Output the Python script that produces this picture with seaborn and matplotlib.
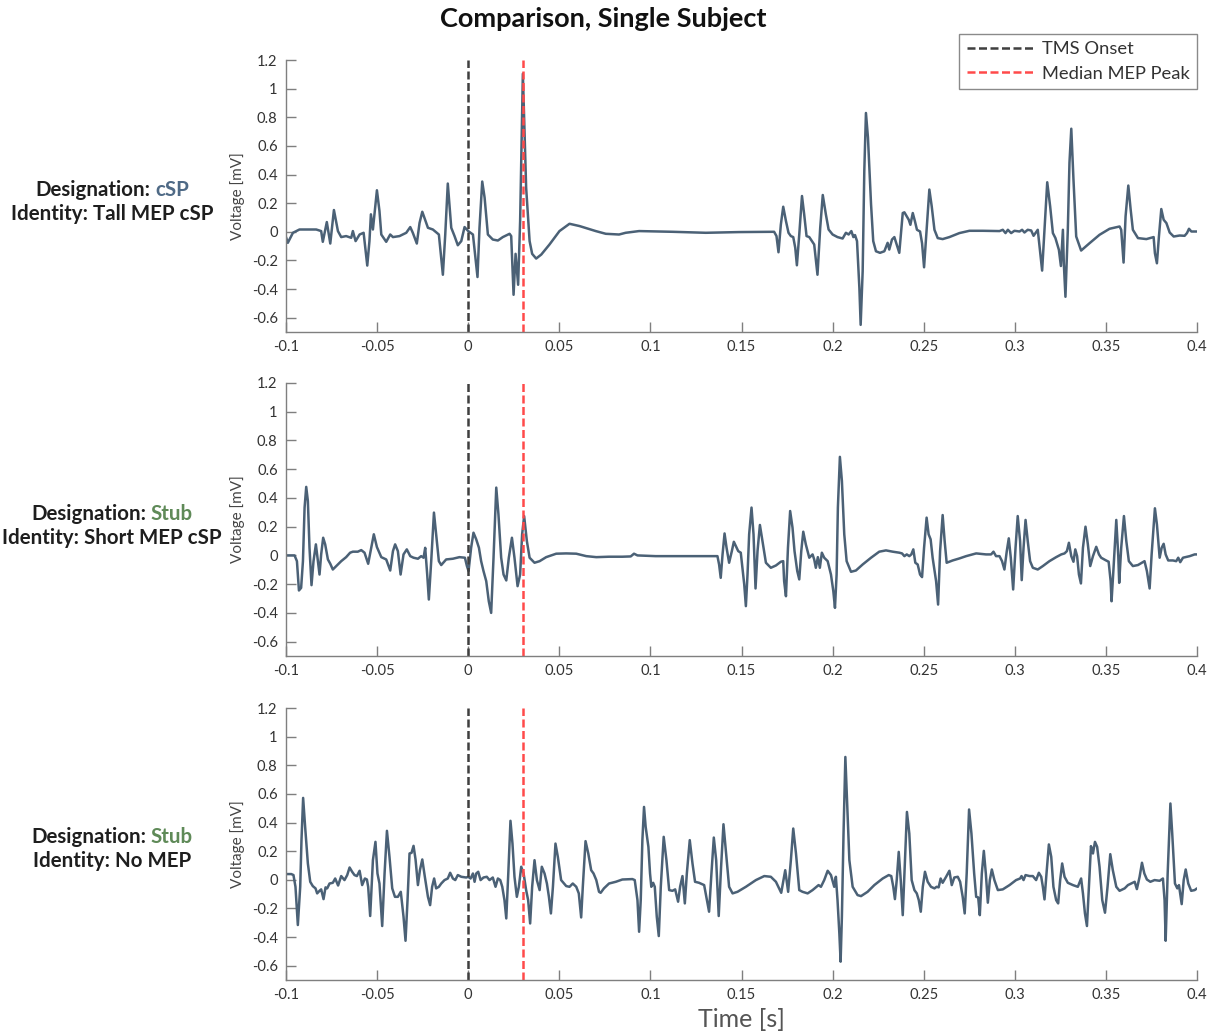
import numpy as np
import pandas as pd
import matplotlib
matplotlib.use("Agg")
import matplotlib.pyplot as plt
from matplotlib.ticker import FuncFormatter
import seaborn as sns

# ---------------- data ----------------
# Trial 1: Designation cSP / Identity Tall MEP cSP
t1 = [-0.1, -0.099, -0.0962, -0.0926, -0.0834, -0.0807, -0.0798, -0.0776, -0.0757, -0.0737,
      -0.0715, -0.0697, -0.0670, -0.0642, -0.0633, -0.0618, -0.0596, -0.0574, -0.0554, -0.0542,
      -0.0534, -0.0523, -0.0501, -0.0487, -0.0477, -0.0450, -0.0428, -0.0413, -0.0377, -0.0340,
      -0.0318, -0.0304, -0.0282, -0.0267, -0.0252, -0.0234, -0.0221, -0.0194, -0.0161, -0.0139,
      -0.0126, -0.0112, -0.0093, -0.0075, -0.0057, -0.0038, -0.0020, 0.0, 0.0026, 0.0051,
      0.0062, 0.0077, 0.0090, 0.0108, 0.0135, 0.0163, 0.0190, 0.0227, 0.0236, 0.0249,
      0.0260, 0.0274, 0.0285, 0.0300, 0.0318, 0.0337, 0.0351, 0.0373, 0.0401, 0.0446,
      0.0501, 0.0556, 0.0611,
      0.0700, 0.0755, 0.0828, 0.0864, 0.0938, 0.1121, 0.1304, 0.1487, 0.1679, 0.1692,
      0.1703, 0.1716, 0.1729, 0.1744, 0.1758, 0.1771, 0.1784, 0.1795, 0.1804, 0.1817,
      0.1832, 0.1844, 0.1857, 0.1872, 0.1899, 0.1917, 0.1932, 0.1946, 0.1963, 0.1978,
      0.2000, 0.2027, 0.2055, 0.2073, 0.2088, 0.2103, 0.2114, 0.2123, 0.2134, 0.2147,
      0.2154, 0.2165, 0.2174, 0.2183, 0.2194, 0.2211, 0.2223, 0.2238, 0.2260, 0.2284,
      0.2302, 0.2311, 0.2326, 0.2339, 0.2352, 0.2366,
      0.2385, 0.2394, 0.2407, 0.2418, 0.2427, 0.2440, 0.2452, 0.2463, 0.2480, 0.2491,
      0.2502, 0.2516, 0.2531, 0.2544, 0.2559, 0.2577, 0.2604, 0.2641, 0.2696, 0.2751,
      0.2824, 0.2916, 0.2934, 0.2949, 0.2962, 0.2980, 0.2998, 0.3026, 0.3040, 0.3053,
      0.3071, 0.3090, 0.3103, 0.3126, 0.3150, 0.3163, 0.3178, 0.3194, 0.3209, 0.3223,
      0.3242, 0.3253, 0.3264, 0.3269, 0.3278, 0.3291, 0.3300, 0.3310, 0.3322, 0.3337,
      0.3364, 0.3410, 0.3465, 0.3520, 0.3575, 0.3584, 0.3597, 0.3608, 0.3623, 0.3636,
      0.3648, 0.3676, 0.3722, 0.3762, 0.3769, 0.3780, 0.3791, 0.3804, 0.3817, 0.3832,
      0.3850, 0.3872, 0.3905, 0.3932, 0.3945, 0.3956, 0.3969, 0.3987, 0.4]
v1 = [-0.037, -0.077, -0.007, 0.016, 0.016, 0.005, -0.070, 0.068, -0.082, 0.152,
      0.005, -0.037, -0.030, -0.042, 0.005, -0.065, -0.019, -0.007, -0.236, -0.065,
      0.122, 0.016, 0.290, 0.145, -0.019, -0.070, -0.019, -0.037, -0.030, -0.007,
      0.033, -0.007, -0.082, 0.062, 0.140, 0.075, 0.028, 0.016, -0.019, -0.300,
      -0.019, 0.337, 0.028, -0.030, -0.094, -0.065, 0.033, 0.005, -0.019, -0.316,
      0.028, 0.351, 0.239, -0.019, -0.054, -0.061, -0.037, -0.014, -0.030, -0.440,
      -0.154, -0.370, 0.075, 1.104, 0.309, -0.065, -0.154, -0.187, -0.159, -0.089,
      0.005, 0.056, 0.040,
      0.005, -0.014, -0.019, -0.007, 0.005, 0.0, -0.007, -0.002, 0.0, -0.030,
      -0.143, 0.051, 0.175, 0.075, -0.007, -0.030, -0.037, -0.112, -0.234, -0.019,
      0.250, 0.122, -0.030, -0.037, -0.089, -0.300, 0.028, 0.257, 0.122, 0.016,
      -0.019, -0.037, -0.047, -0.007, -0.019, 0.005, -0.037, -0.023, -0.065, -0.393,
      -0.650, -0.276, 0.426, 0.830, 0.660, 0.192, -0.065, -0.136, -0.147, -0.136,
      -0.077, -0.124, -0.054, -0.037, -0.089, -0.147,
      0.131, 0.136, 0.108, 0.084, 0.049, 0.131, 0.073, 0.014, 0.002, -0.080,
      -0.248, 0.014, 0.295, 0.178, 0.014, -0.044, -0.051, -0.037, -0.009, 0.007,
      0.007, 0.005, 0.014, -0.009, 0.014, -0.009, 0.007, 0.002, 0.014, -0.005,
      0.014, 0.009, -0.028, 0.014, -0.271, 0.014, 0.346, 0.178, -0.009, -0.044,
      -0.126, -0.239, 0.014, -0.220, -0.454, 0.014, 0.482, 0.720, 0.365, -0.033,
      -0.131, -0.080, -0.021, 0.021, 0.037, 0.014, -0.215, 0.108, 0.323, 0.154,
      0.014, -0.044, -0.051, -0.037, -0.150, -0.220, -0.033, 0.159, 0.084, 0.061,
      -0.005, -0.033, -0.026, -0.028, -0.009, 0.021, 0.002, 0.002, 0.002]

# Trial 2: Designation Stub / Identity Short MEP cSP
t2 = [-0.1, -0.0953, -0.0940, -0.0929, -0.0917, -0.0907, -0.0898, -0.0889, -0.0880, -0.0871,
      -0.0860, -0.0849, -0.0836, -0.0825, -0.0816, -0.0807, -0.0796, -0.0785, -0.0770, -0.0757,
      -0.0743, -0.0724, -0.0697, -0.0670, -0.0648, -0.0633, -0.0606, -0.0587, -0.0569, -0.0549,
      -0.0532, -0.0518, -0.0501, -0.0477, -0.0450, -0.0428, -0.0413, -0.0401, -0.0386, -0.0371,
      -0.0355, -0.0337, -0.0318, -0.0300, -0.0276, -0.0258, -0.0245, -0.0236, -0.0225, -0.0216,
      -0.0203, -0.0188, -0.0176, -0.0161, -0.0148, -0.0121, -0.0084, -0.0048, -0.0018, -0.0007,
      0.0002, 0.0016, 0.0029, 0.0044, 0.0059, 0.0071, 0.0084, 0.0099, 0.0113, 0.0126,
      0.0139, 0.0154, 0.0166, 0.0181, 0.0194, 0.0209, 0.0223, 0.0240, 0.0254, 0.0271,
      0.0285, 0.0296, 0.0307, 0.0322, 0.0337, 0.0364, 0.0392, 0.0428, 0.0483, 0.0538,
      0.0593, 0.0648, 0.0703,
      0.0773, 0.0846, 0.0892, 0.0910, 0.0929, 0.1029, 0.1212, 0.1368, 0.1377, 0.1386,
      0.1396, 0.1407, 0.1418, 0.1432, 0.1447, 0.1458, 0.1469, 0.1482, 0.1496, 0.1505,
      0.1515, 0.1524, 0.1533, 0.1542, 0.1555, 0.1566, 0.1577, 0.1588, 0.1601, 0.1615,
      0.1634, 0.1661, 0.1689, 0.1716, 0.1729, 0.1734, 0.1744, 0.1755, 0.1767, 0.1780,
      0.1791, 0.1806, 0.1817, 0.1828, 0.1839, 0.1853, 0.1872, 0.1890, 0.1899, 0.1908,
      0.1919, 0.1930, 0.1941, 0.1954, 0.1973, 0.1991, 0.2004, 0.2013, 0.2022, 0.2029,
      0.2040, 0.2051, 0.2064, 0.2077, 0.2101, 0.2128, 0.2165, 0.2211, 0.2256, 0.2293,
      0.2330,
      0.2366, 0.2381, 0.2394, 0.2407, 0.2421, 0.2432, 0.2443, 0.2454, 0.2467, 0.2480,
      0.2491, 0.2502, 0.2516, 0.2527, 0.2538, 0.2549, 0.2560, 0.2568, 0.2579, 0.2590,
      0.2604, 0.2615, 0.2626, 0.2659, 0.2696, 0.2733, 0.2788, 0.2842, 0.2870, 0.2883,
      0.2897, 0.2916, 0.2930, 0.2943, 0.2956, 0.2967, 0.2978, 0.2991, 0.3004, 0.3016,
      0.3029, 0.3038, 0.3048, 0.3059, 0.3071, 0.3084, 0.3099, 0.3126, 0.3154, 0.3190,
      0.3227, 0.3255, 0.3273, 0.3286, 0.3297, 0.3310, 0.3322, 0.3332, 0.3342, 0.3352,
      0.3363, 0.3374, 0.3388, 0.3401, 0.3414, 0.3429, 0.3447, 0.3462, 0.3474, 0.3498,
      0.3515, 0.3526, 0.3531, 0.3542, 0.3557, 0.3568, 0.3573, 0.3584, 0.3599, 0.3612,
      0.3626, 0.3648, 0.3676, 0.3712, 0.3725, 0.3740, 0.3751, 0.3769, 0.3780, 0.3795,
      0.3806, 0.3817, 0.3828, 0.3842, 0.3868, 0.3886, 0.3897, 0.3908, 0.3923, 0.3960,
      0.3987, 0.4]
v2 = [0.0, 0.0, -0.040, -0.244, -0.226, -0.040, 0.333, 0.477, 0.379, 0.053,
      -0.207, -0.040, 0.077, -0.040, -0.133, 0.007, 0.123, 0.077, -0.028, -0.058,
      -0.098, -0.074, -0.040, -0.012, 0.019, 0.026, 0.026, 0.037, 0.019, -0.058,
      0.053, 0.147, 0.058, -0.012, -0.028, -0.105, 0.030, 0.077, 0.030, -0.133,
      0.007, 0.042, -0.005, -0.016, -0.023, -0.005, -0.016, 0.053, -0.133, -0.307,
      -0.040, 0.298, 0.147, -0.040, -0.067, -0.028, -0.023, -0.012, -0.016, -0.074,
      -0.109, 0.053, 0.158, 0.112, 0.053, -0.040, -0.109, -0.179, -0.319, -0.400,
      -0.016, 0.472, 0.286, -0.016, -0.133, -0.174, -0.016, 0.123, -0.016, -0.214,
      -0.133, 0.147, 0.274, 0.100, -0.016, -0.051, -0.040, -0.012, 0.012, 0.014,
      0.012, -0.005, -0.012,
      -0.009, -0.009, -0.007, 0.012, 0.0, -0.005, -0.005, -0.005, -0.063, -0.156,
      0.007, 0.153, 0.053, -0.051, 0.030, 0.095, 0.065, 0.030, 0.019, -0.086,
      -0.202, -0.353, -0.133, 0.147, 0.333, 0.147, -0.230, 0.030, 0.212, 0.100,
      -0.051, -0.086, -0.070, -0.044, -0.040, -0.179, -0.284, 0.053, 0.309, 0.193,
      0.030, -0.109, -0.167, 0.030, 0.165, 0.077, -0.016, 0.007, -0.028, -0.086,
      -0.012, -0.086, 0.019, -0.016, -0.040, -0.133, -0.249, -0.365, -0.133, 0.333,
      0.686, 0.519, 0.147, -0.040, -0.114, -0.105, -0.063, -0.016, 0.026, 0.035,
      0.026,
      0.019, 0.014, -0.005, 0.007, -0.005, 0.007, 0.042, -0.051, -0.063, -0.133,
      -0.151, 0.053, 0.263, 0.147, 0.112, -0.016, -0.109, -0.179, -0.342, 0.030,
      0.281, 0.100, -0.051, -0.035, -0.021, -0.005, 0.014, 0.007, 0.007, 0.026,
      -0.005, -0.005, -0.040, -0.098, 0.030, 0.119, -0.016, -0.237, 0.053, 0.274,
      0.100, -0.172, 0.053, 0.247, 0.100, -0.040, -0.086, -0.098, -0.074, -0.040,
      -0.012, 0.007, 0.014, 0.030, 0.088, -0.005, -0.044, 0.042, -0.005, -0.133,
      -0.195, 0.053, 0.200, 0.077, -0.074, -0.005, 0.060, 0.007, -0.016, -0.033,
      -0.044, -0.179, -0.319, -0.086, 0.247, -0.005, -0.191, 0.053, 0.274, 0.100,
      -0.040, -0.074, -0.067, -0.040, -0.109, -0.230, 0.007, 0.328, 0.216, -0.016,
      0.053, 0.081, 0.007, -0.035, -0.035, -0.040, -0.016, -0.047, -0.016, -0.005,
      0.007, 0.007]

# Trial 3: Designation Stub / Identity No MEP
t3 = [-0.1, -0.0971, -0.0959, -0.0948, -0.0935, -0.0922, -0.0915, -0.0906, -0.0895, -0.0880,
      -0.0867, -0.0853, -0.0838, -0.0829, -0.0816, -0.0807, -0.0794, -0.0783, -0.0774, -0.0761,
      -0.0743, -0.0730, -0.0714, -0.0697, -0.0679, -0.0664, -0.0651, -0.0637, -0.0624, -0.0611,
      -0.0596, -0.0582, -0.0567, -0.0556, -0.0549, -0.0538, -0.0523, -0.0509, -0.0498, -0.0487,
      -0.0472, -0.0459, -0.0446, -0.0432, -0.0417, -0.0402, -0.0386, -0.0370, -0.0355, -0.0344,
      -0.0333, -0.0322, -0.0311, -0.0300, -0.0289, -0.0276, -0.0265, -0.0252, -0.0238, -0.0221,
      -0.0209, -0.0198, -0.0187, -0.0176, -0.0161, -0.0148, -0.0130, -0.0112, -0.0099, -0.0084,
      -0.0071, -0.0057, -0.0038, -0.0011, 0.0, 0.0013, 0.0026, 0.0035, 0.0044, 0.0055,
      0.0068, 0.0084, 0.0102, 0.0117, 0.0135, 0.0150, 0.0163, 0.0176, 0.0187, 0.0199,
      0.0209, 0.0220, 0.0232, 0.0243, 0.0254, 0.0267, 0.0278, 0.0291, 0.0304, 0.0318,
      0.0329, 0.0340, 0.0351, 0.0364, 0.0377, 0.0392, 0.0404, 0.0419, 0.0432, 0.0443,
      0.0454, 0.0465, 0.0479, 0.0492, 0.0510, 0.0538, 0.0556, 0.0574, 0.0593, 0.0607,
      0.0620, 0.0629, 0.0644, 0.0659, 0.0675, 0.0688,
      0.0703, 0.0718, 0.0727, 0.0745, 0.0773, 0.0810, 0.0846, 0.0901, 0.0914, 0.0929,
      0.0938, 0.0947, 0.0956, 0.0965, 0.0974, 0.0989, 0.0998, 0.1005, 0.1015, 0.1024,
      0.1035, 0.1046, 0.1057, 0.1073, 0.1088, 0.1103, 0.1121, 0.1136, 0.1152, 0.1163,
      0.1176, 0.1189, 0.1200, 0.1216, 0.1231, 0.1245, 0.1267, 0.1295, 0.1322, 0.1335,
      0.1348, 0.1361, 0.1375, 0.1388, 0.1401, 0.1414, 0.1432, 0.1451, 0.1478, 0.1524,
      0.1579, 0.1625, 0.1661, 0.1689, 0.1718, 0.1740, 0.1756, 0.1771, 0.1784, 0.1799,
      0.1817, 0.1835, 0.1863, 0.1890, 0.1923, 0.1936, 0.1954, 0.1973, 0.1991, 0.2009,
      0.2018, 0.2027, 0.2037, 0.2044, 0.2051, 0.2060, 0.2070, 0.2079, 0.2092, 0.2110,
      0.2137, 0.2156, 0.2192, 0.2229, 0.2275, 0.2308, 0.2322, 0.2333, 0.2342, 0.2352,
      0.2363, 0.2374, 0.2385, 0.2396, 0.2408,
      0.2421, 0.2434, 0.2449, 0.2462, 0.2473, 0.2484, 0.2495, 0.2507, 0.2522, 0.2540,
      0.2559, 0.2571, 0.2582, 0.2593, 0.2604, 0.2623, 0.2641, 0.2654, 0.2668, 0.2687,
      0.2700, 0.2714, 0.2725, 0.2736, 0.2749, 0.2762, 0.2777, 0.2788, 0.2799, 0.2808,
      0.2819, 0.2830, 0.2841, 0.2852, 0.2863, 0.2874, 0.2888, 0.2907, 0.2934, 0.2971,
      0.3007, 0.3029, 0.3037, 0.3048, 0.3059, 0.3081, 0.3099, 0.3117, 0.3132, 0.3145,
      0.3154, 0.3163, 0.3174, 0.3187, 0.3200, 0.3212, 0.3227, 0.3238, 0.3249, 0.3260,
      0.3273, 0.3291, 0.3319, 0.3346, 0.3364, 0.3374, 0.3385, 0.3396, 0.3407, 0.3418,
      0.3429, 0.3440, 0.3452, 0.3465, 0.3480, 0.3495, 0.3509, 0.3524, 0.3538, 0.3557,
      0.3575, 0.3603, 0.3621, 0.3639, 0.3658, 0.3670, 0.3685, 0.3698, 0.3711, 0.3725,
      0.3744, 0.3767, 0.3795, 0.3813, 0.3822, 0.3828, 0.3839, 0.3854, 0.3864, 0.3879,
      0.3892, 0.3901, 0.3916, 0.3927, 0.3938, 0.3952, 0.3968, 0.3987, 0.4]
v3 = [0.040, 0.040, 0.033, -0.049, -0.316, -0.049, 0.277, 0.572, 0.370, 0.114,
      -0.014, -0.044, -0.060, -0.095, -0.077, -0.067, -0.135, -0.053, -0.060, -0.026,
      -0.021, 0.009, -0.040, 0.026, -0.002, 0.033, 0.086, 0.056, 0.033, 0.026,
      0.063, -0.037, 0.009, 0.002, -0.049, -0.253, 0.137, 0.265, 0.044, -0.026,
      -0.323, 0.044, 0.342, 0.160, -0.060, -0.119, -0.119, -0.084, -0.258, -0.426,
      -0.142, 0.184, 0.188, 0.237, 0.142, -0.037, 0.067, 0.142, 0.021, -0.119,
      -0.177, -0.049, 0.009, -0.060, -0.049, -0.026, -0.002, 0.009, 0.049, 0.009,
      -0.002, 0.033, 0.021, 0.016, 0.021, 0.009, 0.044, -0.014, 0.044, 0.056,
      -0.002, 0.016, 0.021, -0.002, 0.016, -0.049, 0.009, -0.002, -0.049, -0.142,
      -0.270, 0.044, 0.412, 0.253, 0.021, -0.119, -0.049, 0.091, 0.044, -0.072,
      -0.142, -0.305, -0.049, 0.137, -0.002, -0.072, 0.091, 0.044, -0.026, -0.119,
      -0.235, -0.049, 0.253, 0.160, -0.002, -0.044, -0.049, -0.026, -0.049, -0.095,
      -0.263, -0.049, 0.270, 0.184, 0.067, 0.044,
      -0.002, -0.084, -0.091, -0.060, -0.026, -0.014, 0.002, 0.005, -0.002, -0.142,
      -0.363, -0.142, 0.277, 0.509, 0.370, 0.230, 0.044, -0.049, -0.021, -0.049,
      -0.258, -0.393, -0.049, 0.300, 0.137, -0.072, -0.077, -0.067, -0.153, -0.049,
      0.026, -0.165, 0.044, 0.277, 0.114, -0.014, -0.021, -0.037, -0.223, 0.044,
      0.295, 0.137, -0.253, 0.091, 0.388, 0.207, -0.049, -0.095, -0.084, -0.049,
      -0.002, 0.026, 0.021, -0.014, -0.091, 0.067, -0.084, 0.137, 0.358, 0.184,
      -0.072, -0.084, -0.095, -0.072, -0.037, -0.049, -0.002, 0.063, 0.033, -0.049,
      0.021, -0.142, -0.374, -0.572, -0.258, 0.323, 0.858, 0.556, 0.137, -0.049,
      -0.107, -0.114, -0.084, -0.037, 0.009, 0.033, 0.026, -0.049, -0.135, -0.002,
      0.195, -0.002, -0.247, 0.091, 0.474,
      0.323, -0.002, -0.072, -0.095, -0.142, -0.223, -0.049, 0.056, -0.014, -0.049,
      -0.060, -0.049, -0.053, 0.009, -0.021, 0.021, 0.063, -0.037, 0.016, 0.021,
      -0.014, -0.119, -0.235, 0.044, 0.491, 0.323, 0.044, -0.119, -0.123, -0.247,
      0.044, 0.202, 0.044, -0.160, -0.002, 0.072, -0.002, -0.072, -0.067, -0.037,
      -0.002, 0.009, 0.026, -0.002, 0.033, 0.026, 0.026, -0.002, 0.049, 0.021,
      -0.049, -0.137, 0.044, 0.247, 0.160, -0.049, -0.142, -0.165, -0.002, 0.114,
      0.021, -0.021, -0.037, -0.049, 0.009, -0.095, -0.235, -0.323, -0.049, 0.235,
      0.184, 0.265, 0.230, 0.091, -0.142, -0.230, -0.049, 0.179, 0.067, -0.049,
      -0.077, -0.060, -0.037, -0.026, -0.014, -0.065, 0.021, 0.119, 0.044, 0.002,
      -0.014, -0.002, -0.007, 0.009, -0.142, -0.426, 0.044, 0.533, 0.323, -0.026,
      -0.060, -0.037, -0.170, -0.002, 0.072, -0.026, -0.077, -0.072, -0.060]

designations = ["cSP", "Stub", "Stub"]
identities = ["Tall MEP cSP", "Short MEP cSP", "No MEP"]
tms_onset = 0.0
median_mep_peak = 0.03
x_ticks = [-0.1, -0.05, 0, 0.05, 0.1, 0.15, 0.2, 0.25, 0.3, 0.35, 0.4]
y_ticks = [-0.6, -0.4, -0.2, 0, 0.2, 0.4, 0.6, 0.8, 1, 1.2]

traces = [(t1, v1), (t2, v2), (t3, v3)]

# ---------------- style ----------------
sns.set_theme(style="white")
plt.rcParams['font.family'] = ['Lato', 'DejaVu Sans']

line_color = "#4b6176"
desig_colors = {"cSP": "#4f6a86", "Stub": "#5f8a58"}
text_dark = "#1e1e1e"
axis_gray = "#7f7f7f"

W, H = 1216, 1036
fig = plt.figure(figsize=(W / 100, H / 100), dpi=100)

# axes rectangles (pixel based: left 286, right 1197)
tops = [60, 383, 708]
bottoms = [332, 656, 980]
left_px, right_px = 286, 1197

fmt = FuncFormatter(lambda v, p: ("%g" % round(v, 4)))

axes = []
for i, (t, v) in enumerate(traces):
    ax = fig.add_axes([left_px / W, 1 - bottoms[i] / H, (right_px - left_px) / W,
                       (bottoms[i] - tops[i]) / H])
    df = pd.DataFrame({"Time": t, "Voltage": v})
    sns.lineplot(data=df, x="Time", y="Voltage", ax=ax, color=line_color,
                 linewidth=1.8, estimator=None, sort=False)
    l0 = ax.axvline(tms_onset, color="#3f3f3f", linestyle=(0, (3.2, 1.4)), linewidth=1.8,
                    label="TMS Onset")
    l1 = ax.axvline(median_mep_peak, color="#ff4a4a", linestyle=(0, (3.2, 1.4)), linewidth=1.8,
                    label="Median MEP Peak")
    ax.set_xlim(-0.1, 0.4)
    ax.set_ylim(-0.7, 1.2)
    ax.set_xticks(x_ticks)
    ax.set_yticks(y_ticks)
    ax.xaxis.set_major_formatter(fmt)
    ax.yaxis.set_major_formatter(fmt)
    ax.tick_params(axis="both", direction="in", length=7, width=1, color=axis_gray,
                   labelsize=10.6, labelcolor="#333333", pad=6,
                   bottom=True, left=True)
    sns.despine(ax=ax)
    for s in ("left", "bottom"):
        ax.spines[s].set_color(axis_gray)
        ax.spines[s].set_linewidth(1.0)
    ax.set_ylabel("Voltage [mV]", fontsize=11, color="#444444", labelpad=5)
    ax.set_xlabel("")
    ax.grid(False)
    if i == 2:
        ax.set_xlabel("Time [s]", fontsize=18, color="#555555", labelpad=4)
    axes.append(ax)
    if i == 0:
        handles = [l0, l1]

fig.suptitle("Comparison, Single Subject", x=603 / W, y=1 - 19 / H, va="center",
             fontsize=19.5, fontweight="bold", color="#111111")

leg = fig.legend(handles=handles, labels=["TMS Onset", "Median MEP Peak"],
                 loc="upper right", bbox_to_anchor=(1197 / W, 1 - 34 / H),
                 fontsize=13.2, handlelength=3.6, frameon=True, fancybox=False,
                 framealpha=1, edgecolor="#8a8a8a", borderpad=0.4, labelspacing=0.45,
                 handletextpad=0.5, borderaxespad=0.0)
leg.get_frame().set_linewidth(1.0)
for txt in leg.get_texts():
    txt.set_color("#333333")

# row labels with a coloured designation word
fig.canvas.draw()
renderer = fig.canvas.get_renderer()
centers_y = [(190, 214), (514, 538), (837, 861)]
label_cx = 112
fs_lab = 14.8
for i in range(3):
    y1, y2 = centers_y[i]
    d = designations[i]
    full = fig.text(0, 0, "Designation: " + d, fontsize=fs_lab, fontweight="bold")
    wfull = full.get_window_extent(renderer).width
    full.remove()
    lx = (label_cx - wfull / 2) / W
    rx = (label_cx + wfull / 2) / W
    fig.text(lx, 1 - y1 / H, "Designation:", fontsize=fs_lab, fontweight="bold",
             color=text_dark, ha="left", va="center")
    fig.text(rx, 1 - y1 / H, d, fontsize=fs_lab, fontweight="bold",
             color=desig_colors[d], ha="right", va="center")
    fig.text(label_cx / W, 1 - y2 / H, "Identity: " + identities[i], fontsize=fs_lab,
             fontweight="bold", color=text_dark, ha="center", va="center")

fig.savefig("out.png", dpi=100, facecolor="white")
